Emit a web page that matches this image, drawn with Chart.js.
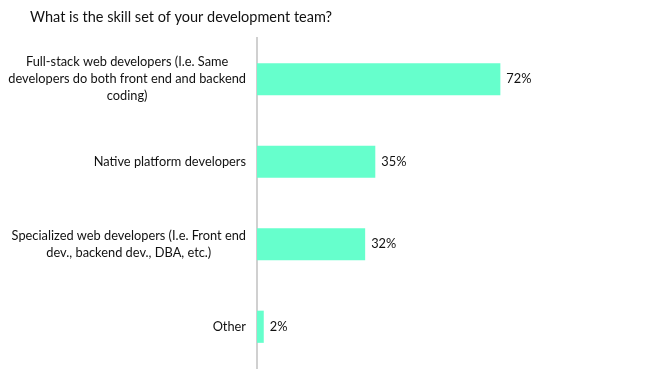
<!DOCTYPE html>
<html>
<head>
<meta charset="utf-8">
<script src="https://cdn.jsdelivr.net/npm/chart.js@4/dist/chart.umd.min.js"></script>
<style>
  html, body { margin: 0; padding: 0; background: #fff; }
  #wrap { width: 650px; height: 377px; position: relative; }
</style>
</head>
<body>
<div id="wrap"><canvas id="chart"></canvas></div>
<script>
// Data
const chartTitle = 'What is the skill set of your development team?';
const categories = [
  ['Full-stack web developers (I.e. Same', 'developers do both front end and backend', 'coding)'],
  ['Native platform developers'],
  ['Specialized web developers (I.e. Front end', 'dev., backend dev., DBA, etc.)'],
  ['Other']
];
const shares = [72, 35, 32, 2];

const FONT = 'Lato, "Open Sans", sans-serif';
const TEXT_COLOR = '#111111';

// Draws the title, the centred multi-line category labels and the value labels
const labelPlugin = {
  id: 'labelPlugin',
  afterDraw(chart) {
    const ctx = chart.ctx;
    const yScale = chart.scales.y;
    const area = chart.chartArea;
    ctx.save();
    ctx.fillStyle = TEXT_COLOR;

    // title
    ctx.font = '14.5px ' + FONT;
    ctx.textAlign = 'left';
    ctx.textBaseline = 'middle';
    ctx.fillText(chartTitle, 30, 17);

    // category labels (lines centred inside a right-aligned block)
    ctx.font = '12.8px ' + FONT;
    const lineH = 17;
    categories.forEach((lines, i) => {
      const yc = yScale.getPixelForValue(i);
      const maxW = Math.max(...lines.map(l => ctx.measureText(l).width));
      const cx = area.left - 11 - maxW / 2;
      ctx.textAlign = 'center';
      lines.forEach((l, j) => {
        ctx.fillText(l, cx, yc + (j - (lines.length - 1) / 2) * lineH);
      });
    });

    // value labels
    const meta = chart.getDatasetMeta(0);
    ctx.textAlign = 'left';
    meta.data.forEach((bar, i) => {
      ctx.fillText(shares[i] + '%', bar.x + 6, bar.y);
    });
    ctx.restore();
  }
};

new Chart(document.getElementById('chart'), {
  type: 'bar',
  data: {
    labels: categories.map(c => c.join(' ')),
    datasets: [{
      data: shares,
      backgroundColor: '#66ffcc',
      borderWidth: 0,
      barPercentage: 0.78,
      categoryPercentage: 0.5
    }]
  },
  options: {
    indexAxis: 'y',
    responsive: true,
    maintainAspectRatio: false,
    animation: false,
    layout: { padding: { top: 38, right: 55, bottom: 9, left: 0 } },
    scales: {
      x: {
        display: false,
        min: 0,
        max: 100
      },
      y: {
        grid: { display: false },
        ticks: { display: false },
        border: { display: true, color: '#d0d0d0', width: 2 },
        afterFit(scale) { scale.width = 257; }
      }
    },
    plugins: {
      legend: { display: false },
      title: { display: false },
      tooltip: { enabled: false }
    }
  },
  plugins: [labelPlugin]
});
</script>
</body>
</html>
